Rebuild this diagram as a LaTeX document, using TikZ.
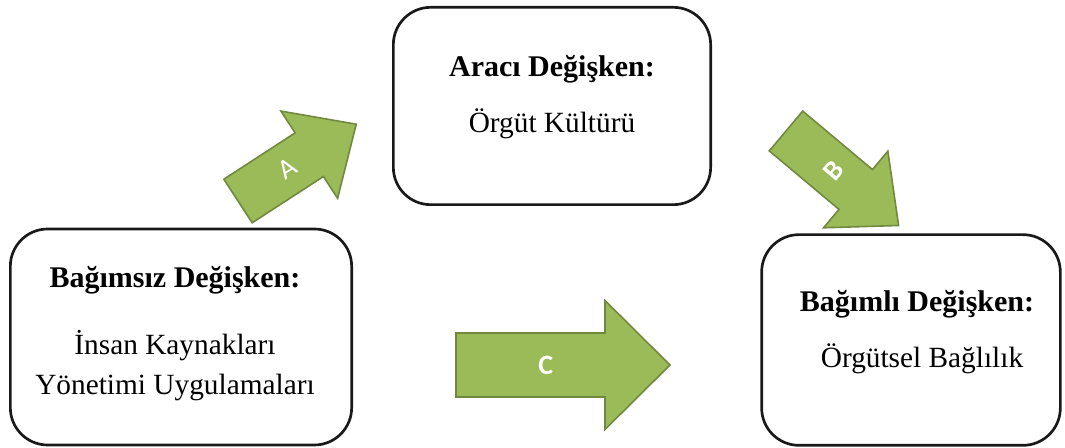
\documentclass[tikz,border=0pt]{standalone}
\usepackage{fontspec}
\setmainfont{Liberation Serif}
\newfontfamily\calibri{Carlito}
\definecolor{okyesil}{HTML}{9BBB59}
\definecolor{okkenar}{HTML}{71893F}

\begin{document}
\begin{tikzpicture}[
		x={(0.75pt,0pt)},
		y={(0pt,-0.75pt)},
		kutu/.style={draw=black!90, line width=2pt, rounded corners=28pt, fill=white},
		baslik/.style={anchor=base, font=\fontsize{22.5}{26}\selectfont\bfseries},
		icerik/.style={anchor=base, font=\fontsize{22}{26}\selectfont},
		okgovde/.style={draw=okkenar, fill=okyesil, line width=1.2pt, line join=miter},
		oketiket/.style={text=white, inner sep=0pt, font=\fontsize{21}{25}\selectfont\calibri},
	]
		\useasboundingbox (0,0) rectangle (1065,448);
		
		% boxes
		\node[kutu, minimum width=256pt, minimum height=162pt] (bagimsiz) at (181,337) {};
		\node[kutu, minimum width=238pt, minimum height=148pt] (araci) at (552,106) {};
		\node[kutu, minimum width=224pt, minimum height=158pt] (bagimli) at (911,340) {};
		
		\node[baslik] (bagimsizB) at (175,288) {Bağımsız Değişken:};
		\node[icerik] (bagimsizI) at (175,355) {İnsan Kaynakları};
		\node[icerik] (bagimsizY) at (175,395) {Yönetimi Uygulamaları};
		
		\node[baslik] (araciB) at (552,77) {Aracı Değişken:};
		\node[icerik] (araciI) at (552,133) {Örgüt Kültürü};
		
		\node[baslik] (bagimliB) at (917,312) {Bağımlı Değişken:};
		\node[icerik] (bagimliI) at (922,368) {Örgütsel Bağlılık};
		
		% arrows: tail x/y, angle, length, shaft half width, head half width, head length
		\foreach \ad/\px/\py/\aci/\L/\s/\h/\k/\yazi in {
			A/238/201/33/141/26/52/56/{A},
			B/786/131/-40/147/26/50/56/{\rotatebox{90}{\bfseries B}},
			C/456/365/0/214/32/64.5/65/{\bfseries C}}{
			\begin{scope}[shift={(\px,\py)}, rotate=\aci]
				\draw[okgovde] (0,-\s) -- ({\L-\k},-\s) -- ({\L-\k},-\h) -- (\L,0) -- ({\L-\k},\h) -- ({\L-\k},\s) -- (0,\s) -- cycle;
				\node[oketiket, rotate=\aci] (ok\ad) at ({0.42*\L},0) {\yazi};
			\end{scope}
		}
	\end{tikzpicture}
\end{document}
